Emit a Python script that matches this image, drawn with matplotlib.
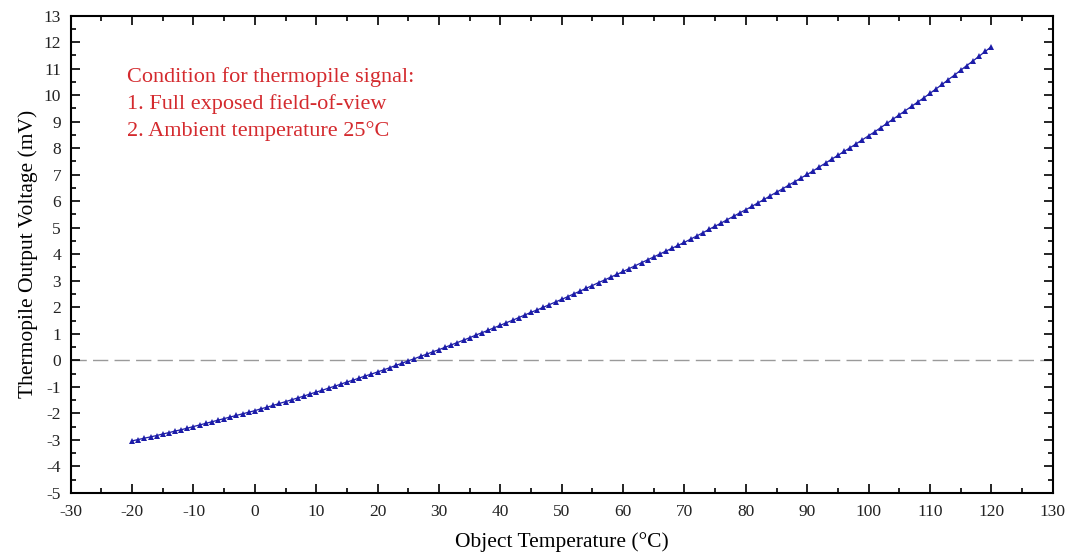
"""Thermopile output voltage versus object temperature (ambient 25 degC)."""

import matplotlib

matplotlib.use("Agg")

import matplotlib.pyplot as plt
from matplotlib.ticker import MultipleLocator

# Object temperature, one reading per degree C
TEMPERATURES = list(range(-20, 121))

# Thermopile output voltage (mV), one value per degree
VOLTAGES = [
    -3.04, -2.99, -2.94, -2.89, -2.84, -2.78, -2.73, -2.67, -2.62, -2.56,
    -2.50, -2.44, -2.38, -2.32, -2.26, -2.20, -2.14, -2.08, -2.02, -1.96,
    -1.90, -1.83, -1.77, -1.70, -1.63, -1.56, -1.49, -1.42, -1.35, -1.27,
    -1.20, -1.13, -1.05, -0.98, -0.90, -0.82, -0.75, -0.67, -0.59, -0.52,
    -0.44, -0.36, -0.28, -0.19, -0.11, -0.02, 0.06, 0.15, 0.23, 0.32,
    0.40, 0.49, 0.58, 0.67, 0.76, 0.85, 0.95, 1.04, 1.13, 1.23,
    1.32, 1.42, 1.51, 1.61, 1.71, 1.81, 1.90, 2.00, 2.10, 2.20,
    2.30, 2.40, 2.51, 2.61, 2.72, 2.82, 2.93, 3.03, 3.14, 3.24,
    3.35, 3.46, 3.57, 3.68, 3.79, 3.90, 4.01, 4.12, 4.23, 4.34,
    4.45, 4.57, 4.69, 4.81, 4.94, 5.06, 5.18, 5.31, 5.43, 5.56,
    5.68, 5.81, 5.94, 6.07, 6.21, 6.34, 6.47, 6.61, 6.74, 6.88,
    7.01, 7.15, 7.30, 7.44, 7.59, 7.73, 7.88, 8.02, 8.17, 8.32,
    8.47, 8.62, 8.78, 8.94, 9.10, 9.26, 9.42, 9.58, 9.74, 9.90,
    10.07, 10.24, 10.41, 10.59, 10.76, 10.94, 11.12, 11.29, 11.47, 11.65,
    11.83,
]

CONDITION_LINES = [
    "Condition for thermopile signal:",
    "1. Full exposed field-of-view",
    "2. Ambient temperature 25\u00b0C",
]

plt.rcParams["font.family"] = ["Liberation Serif", "DejaVu Serif"]
plt.rcParams["axes.unicode_minus"] = False  # plain hyphen minus, as in the source

fig = plt.figure(figsize=(10.72, 5.6), dpi=100)
ax = fig.add_axes([0.066, 0.120, 0.916, 0.852])

ax.axhline(0, color="#9a9a9a", linestyle=(0, (11, 4.5)), linewidth=1.0, zorder=1)
ax.plot(
    TEMPERATURES,
    VOLTAGES,
    color="#1c1ca8",
    linewidth=0.9,
    marker="^",
    markersize=4.4,
    markeredgewidth=0,
    zorder=3,
)

ax.set_xlim(-30, 130)
ax.set_ylim(-5, 13)
ax.xaxis.set_major_locator(MultipleLocator(10))
ax.xaxis.set_minor_locator(MultipleLocator(5))
ax.yaxis.set_major_locator(MultipleLocator(1))
ax.yaxis.set_minor_locator(MultipleLocator(0.5))
ax.tick_params(which="both", direction="in", top=True, right=True,
               labelsize=12.5, width=1.2, labelcolor="#222222")
ax.tick_params(which="major", length=6.5)
ax.tick_params(which="minor", length=3.6)
ax.tick_params(axis="x", pad=8)
ax.tick_params(axis="y", pad=7)
for spine in ax.spines.values():
    spine.set_linewidth(1.5)

ax.set_xlabel("Object Temperature (\u00b0C)", fontsize=15.5, labelpad=9)
ax.set_ylabel("Thermopile Output Voltage (mV)", fontsize=15.5, labelpad=4)

ax.text(
    0.057, 0.893, "\n".join(CONDITION_LINES),
    transform=ax.transAxes, ha="left", va="top",
    color="#d42a2e", fontsize=16, linespacing=1.5,
)

fig.savefig("out.png", dpi=100)
